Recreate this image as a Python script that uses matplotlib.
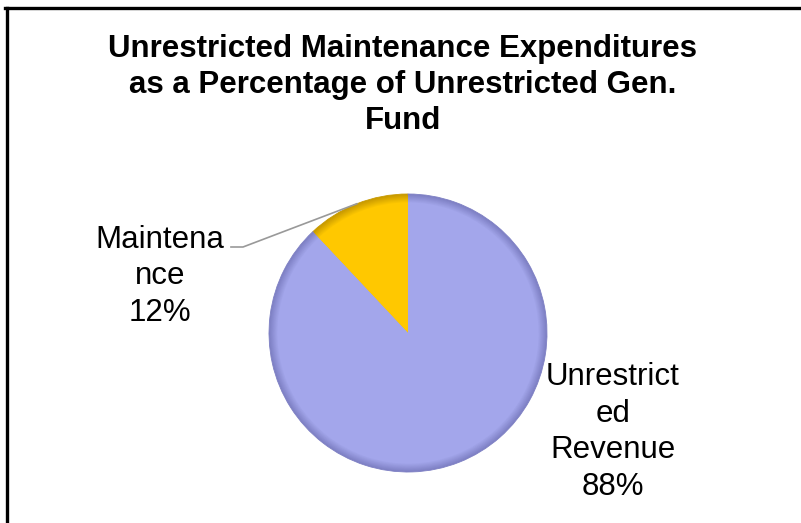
import matplotlib
matplotlib.use("Agg")
import matplotlib.pyplot as plt
import numpy as np
from matplotlib.colors import to_rgb
from matplotlib.lines import Line2D

plt.rcParams['font.family'] = ['Liberation Sans', 'DejaVu Sans']

title_lines = ["Unrestricted Maintenance Expenditures",
               "as a Percentage of Unrestricted Gen.",
               "Fund"]
categories = ["Unrestricted Revenue", "Maintenance"]
label_lines = [["Unrestrict", "ed", "Revenue"], ["Maintena", "nce"]]
values = [88, 12]
colors = ["#A3A6EB", "#FFC800"]
rim_colors = ["#7E80C4", "#C89A00"]

W, H = 801, 523
fig = plt.figure(figsize=(W / 100, H / 100), dpi=100)
fig.patch.set_facecolor("white")


def fx(px):
    return px / W


def fy(py):
    return 1 - py / H


def text_block(x, first_baseline, step, lines, **kw):
    """Draw lines one below another, each on its own baseline (pixels)."""
    for j, s in enumerate(lines):
        fig.text(fx(x), fy(first_baseline + j * step), s, ha="center",
                 va="baseline", **kw)


# outer chart frame: left and top edges (the rest lies outside the canvas)
fig.add_artist(Line2D([fx(6.5), fx(6.5)], [fy(7.5), -0.1], color="black",
                      linewidth=2.4, transform=fig.transFigure))
fig.add_artist(Line2D([fx(5.3), 1.1], [fy(7.5), fy(7.5)], color="black",
                      linewidth=2.4, transform=fig.transFigure))

text_block(403, 57.3, 36, title_lines, fontsize=22.5, fontweight="bold")

cx, cy, r = 408, 333, 139
ax = fig.add_axes([fx(cx - r), fy(cy + r), 2 * r / W, 2 * r / H])
ax.axis("off")

# counter-clockwise from the top: Maintenance first, then Revenue.
# Several passes with shrinking radius give a soft darker rim.
order = [1, 0]
n_rim = 8
wedges = None
for k in range(n_rim + 1):
    t = k / n_rim
    rad = 1.0 - 0.06 * t
    cols = [tuple((1 - t) * np.array(to_rgb(rim_colors[i])) + t * np.array(to_rgb(colors[i])))
            for i in order]
    w, _ = ax.pie([values[i] for i in order], colors=cols, startangle=90,
                  counterclock=True, radius=rad,
                  wedgeprops=dict(linewidth=0))
    if k == 0:
        wedges = w
for w, i in zip(wedges, order):
    w.set_edgecolor(rim_colors[i])
    w.set_linewidth(0.6)
ax.set_xlim(-1, 1)
ax.set_ylim(-1, 1)
ax.set_aspect("equal")

total = sum(values)
label_pos = {"Unrestricted Revenue": (613, 385.0, 36.6),
             "Maintenance": (160, 248.3, 36.2)}
for cat, lines, v in zip(categories, label_lines, values):
    x, y0, step = label_pos[cat]
    text_block(x, y0, step, lines + [f"{round(100 * v / total)}%"], fontsize=22.5)

# leader line for the Maintenance label, ending at the wedge's mid-angle
mid = np.deg2rad(90 + 360 * values[1] / total / 2)
ex, ey = cx + r * np.cos(mid), cy - r * np.sin(mid)
fig.add_artist(Line2D([fx(231), fx(243), fx(ex)], [fy(247), fy(247), fy(ey)],
                      color="#999999", linewidth=1.2, transform=fig.transFigure))

fig.savefig("out.png", dpi=100)
